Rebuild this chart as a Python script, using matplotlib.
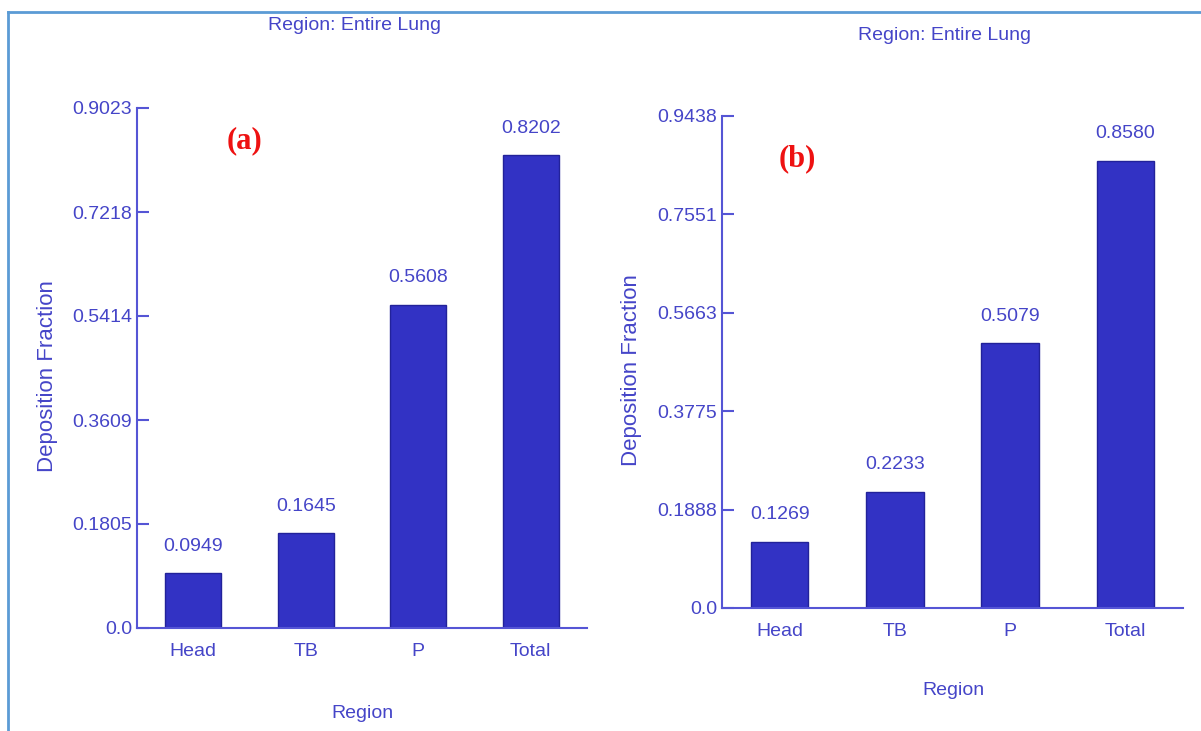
import matplotlib
matplotlib.use("Agg")
import matplotlib.pyplot as plt
from matplotlib.lines import Line2D

plt.rcParams['font.family'] = ['Liberation Sans', 'DejaVu Sans']

categories = ["Head", "TB", "P", "Total"]
values_a = [0.0949, 0.1645, 0.5608, 0.8202]
values_b = [0.1269, 0.2233, 0.5079, 0.8580]
yticks_a = [0.0, 0.1805, 0.3609, 0.5414, 0.7218, 0.9023]
yticks_b = [0.0, 0.1888, 0.3775, 0.5663, 0.7551, 0.9438]
title_text = "Region: Entire Lung"
xlabel_text = "Region"
ylabel_text = "Deposition Fraction"
panel_labels = ["(a)", "(b)"]

W, H = 1201, 731
fig = plt.figure(figsize=(W / 100, H / 100), dpi=100)
fig.patch.set_facecolor("white")

TXT = "#4545C8"
AX = "#5555D5"
BAR = "#3232C4"
EDGE = "#22229A"
FS = 14


def px_rect(left, right, top, bottom):
    return [left / W, (H - bottom) / H, (right - left) / W, (bottom - top) / H]


def make_panel(rect, values, yticks, title_xy, ylab_xy, xlab_xy, plabel, plabel_xy):
    ax = fig.add_axes(rect)
    x = list(range(len(categories)))
    ax.bar(x, values, width=0.5, color=BAR, edgecolor=EDGE, linewidth=1.0, zorder=2)
    ax.set_xlim(-0.5, 3.5)
    ax.set_ylim(0, yticks[-1])
    ax.set_yticks(yticks)
    ax.set_yticklabels(["0.0" if v == 0 else f"{v:.4f}" for v in yticks])
    ax.set_xticks(x)
    ax.set_xticklabels(categories)
    for s in ["top", "right"]:
        ax.spines[s].set_visible(False)
    for s in ["left", "bottom"]:
        ax.spines[s].set_color(AX)
        ax.spines[s].set_linewidth(1.5)
    ax.tick_params(axis="y", direction="in", length=8.6, width=1.5, color=AX,
                   labelcolor=TXT, labelsize=FS, pad=3.5)
    ax.tick_params(axis="x", length=0, labelcolor=TXT, labelsize=FS, pad=11)
    for xi, v in zip(x, values):
        ax.annotate(f"{v:.4f}", (xi, v), xytext=(0, 19.5), textcoords="offset points",
                    ha="center", va="center", color=TXT, fontsize=FS, annotation_clip=False)
    ax.set_ylabel(ylabel_text, color=TXT, fontsize=16)
    ax.yaxis.set_label_coords(*ylab_xy)
    ax.set_xlabel(xlabel_text, color=TXT, fontsize=FS)
    ax.xaxis.set_label_coords(*xlab_xy)
    ax.xaxis.label.set_va("center")
    ax.yaxis.label.set_va("center")
    fig.text(title_xy[0] / W, 1 - title_xy[1] / H, title_text, ha="center", va="center",
             color=TXT, fontsize=FS)
    fig.text(plabel_xy[0] / W, 1 - plabel_xy[1] / H, plabel, ha="center", va="center",
             color="#EE1111", fontsize=22, fontweight="bold",
             family=["Liberation Serif", "DejaVu Serif"])
    return ax


make_panel(px_rect(137, 587, 108, 628), values_a, yticks_a,
           (354, 26), (-0.198, 0.485), (0.502, -0.165), panel_labels[0], (245, 141))
make_panel(px_rect(722, 1183, 116, 608), values_b, yticks_b,
           (944, 35), (-0.197, 0.484), (0.501, -0.167), panel_labels[1], (797, 159))

# outer frame (top and left lines)
fig.add_artist(Line2D([8 / W, 1.0], [1 - 12 / H, 1 - 12 / H], color="#5B9BD5",
                      linewidth=2, transform=fig.transFigure))
fig.add_artist(Line2D([8 / W, 8 / W], [0.0, 1 - 12 / H], color="#5B9BD5",
                      linewidth=2, transform=fig.transFigure))

fig.savefig("out.png", dpi=100)
